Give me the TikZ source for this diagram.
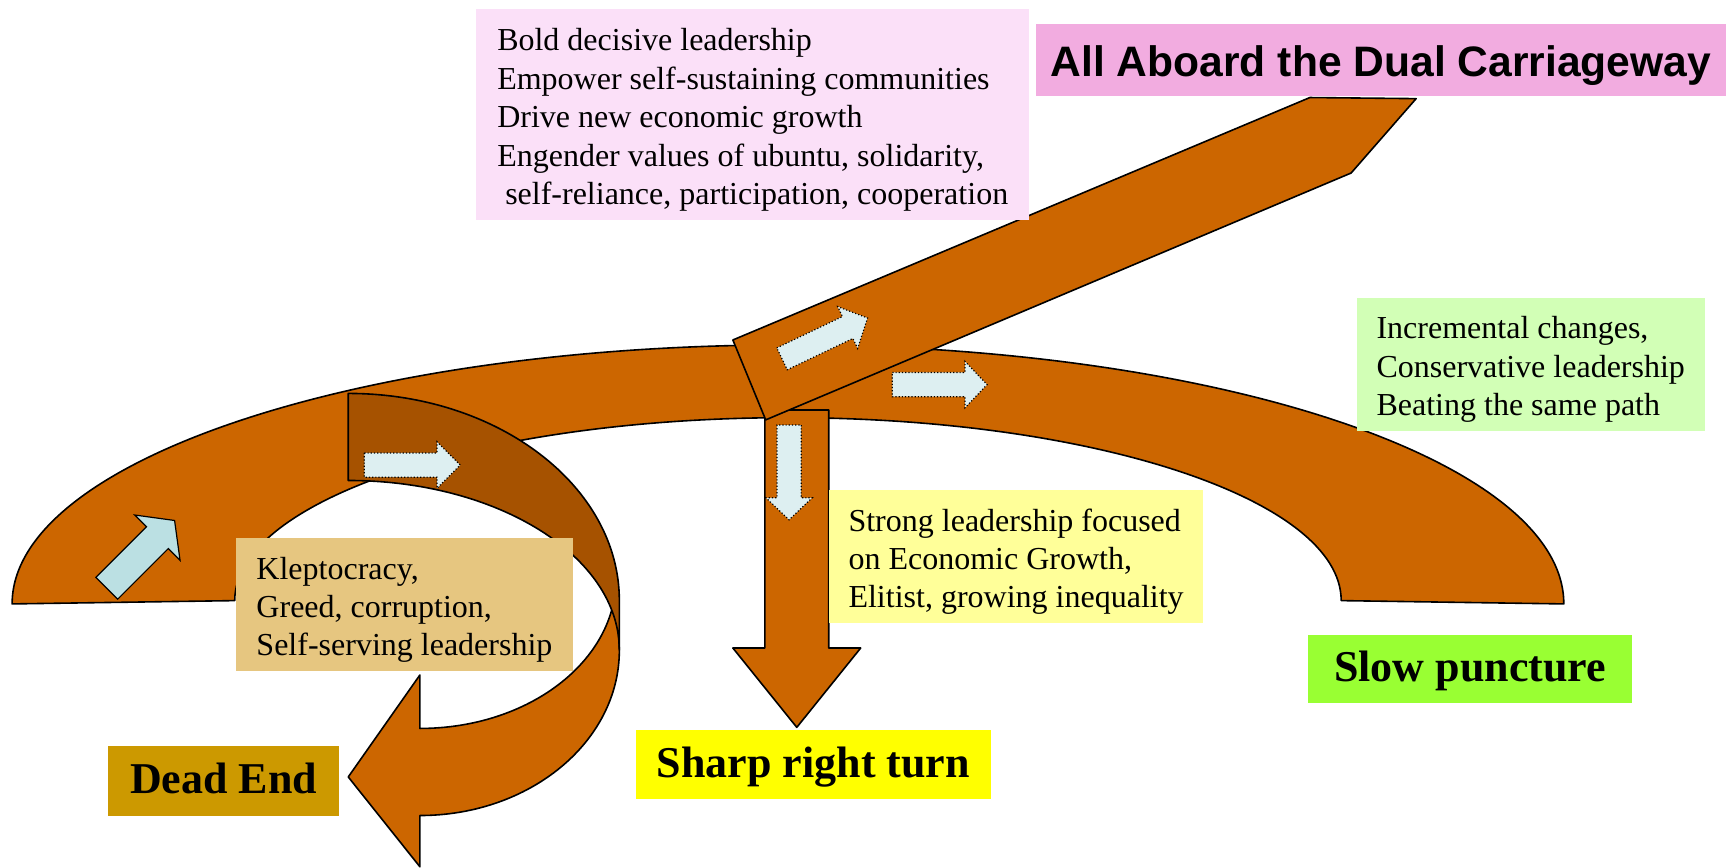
\documentclass[tikz,border=0pt]{standalone}
\usepackage{fontspec}
\setmainfont{Liberation Serif}
\newfontfamily\titlefont{Liberation Sans}
\definecolor{roadorange}{HTML}{CC6600}
\definecolor{roaddark}{HTML}{A65200}
\definecolor{signblue}{HTML}{BBE0E3}
\definecolor{dotblue}{HTML}{DDEFF1}
\definecolor{boldpink}{HTML}{FBE0F8}
\definecolor{titlepink}{HTML}{F2ACE0}
\definecolor{pathgreen}{HTML}{D2FFB6}
\definecolor{paleyellow}{HTML}{FFFF99}
\definecolor{kleptotan}{HTML}{E6C680}
\definecolor{deadgold}{HTML}{CC9900}
\definecolor{turnyellow}{HTML}{FFFF00}
\definecolor{punctgreen}{HTML}{99FF33}
\newcommand\topline{\rule{0pt}{16.5pt}}
\tikzset{
  road/.style={draw, line width=0.8pt, fill=roadorange, line join=round},
  roadback/.style={road, fill=roaddark},
  sign/.style={draw, line width=0.6pt, fill=signblue},
  dotsign/.style={draw, densely dotted, line width=0.6pt, fill=dotblue},
  notebox/.style={inner sep=0pt, align=left, font=\fontsize{16pt}{19.2pt}\selectfont},
  labelbox/.style={text height=13pt, text depth=0pt, font=\fontsize{22pt}{26pt}\selectfont\bfseries},
}

\begin{document}
\begin{tikzpicture}[x=0.551pt, y=-0.551pt]
\useasboundingbox (0,0) rectangle (1568,787);

\draw[road] (381,661) arc[start angle=90, end angle=0, x radius=178, y radius=136]
  -- (562,590) arc[start angle=0, end angle=90, x radius=181, y radius=150]
  -- (381,786.5) -- (316,705) -- (381,612.5) -- cycle;
\draw[road] (11,548) arc[start angle=180, end angle=360, x radius=704, y radius=235]
  -- (1217,545) arc[start angle=360, end angle=180, x radius=502, y radius=166] -- cycle;
\draw[roadback] (316,357) -- (316,436) arc[start angle=270, end angle=360, x radius=246, y radius=154]
  -- (562,545) arc[start angle=0, end angle=-90, x radius=246, y radius=188] -- cycle;
\draw[road] (694,372) -- (752,372) -- (752,588) -- (781,588) -- (723,660) -- (665,588) -- (694,588) -- cycle;
\draw[road] (665,308.5) -- (1188.6,88.5) -- (1285,89.5) -- (1226,157) -- (694.8,381) -- cycle;

\draw[sign, shift={(96.9,533.8)}, rotate=45] (0,-14) -- (65,-14) -- (65,-29) -- (87,0) -- (65,29) -- (65,14) -- (0,14) -- cycle;
\draw[dotsign, shift={(330.6,422)}] (0,-11) -- (66,-11) -- (66,-21) -- (87,0) -- (66,21) -- (66,11) -- (0,11) -- cycle;
\draw[dotsign, shift={(709.6,325.6)}, rotate=25.5] (0,-11) -- (66,-11) -- (66,-21) -- (86,0) -- (66,21) -- (66,11) -- (0,11) -- cycle;
\draw[dotsign, shift={(809.7,349)}] (0,-11) -- (66,-11) -- (66,-21) -- (86,0) -- (66,21) -- (66,11) -- (0,11) -- cycle;
\draw[dotsign, shift={(716,385.7)}, rotate=-90] (0,-11) -- (66,-11) -- (66,-21) -- (86,0) -- (66,21) -- (66,11) -- (0,11) -- cycle;

\node[notebox, fill=boldpink, minimum width=276.6pt, minimum height=105.8pt] (leadership) at (683,104)
  {\topline Bold decisive leadership\\ Empower self-sustaining communities\\ Drive new economic growth\\
   Engender values of ubuntu, solidarity,\\ \hspace*{0.25em}self-reliance, participation, cooperation};
\node[fill=titlepink, minimum width=344.9pt, minimum height=35.8pt, text height=16.6pt, text depth=0pt,
  font=\titlefont\bfseries\fontsize{21.3pt}{25pt}\selectfont] (dualroad) at (1253,54.5) {All Aboard the Dual Carriageway};
\node[notebox, fill=pathgreen, minimum width=174.1pt, minimum height=66.7pt] (incremental) at (1389,330.5)
  {\topline Incremental changes,\\ Conservative leadership\\ Beating the same path};
\node[notebox, fill=paleyellow, minimum width=187.3pt, minimum height=66.1pt] (elitist) at (922,505)
  {\topline Strong leadership focused\\ on Economic Growth,\\ Elitist, growing inequality};
\node[notebox, fill=kleptotan, minimum width=168.6pt, minimum height=66.7pt] (kleptocracy) at (367,548.5)
  {\topline Kleptocracy,\\ Greed, corruption,\\ Self-serving leadership};

\node[labelbox, fill=deadgold, minimum width=115.7pt, minimum height=34.7pt] (deadend) at (203,708.5) {Dead End};
\node[labelbox, fill=turnyellow, minimum width=177.4pt, minimum height=34.7pt] (sharpturn) at (738,693.5) {Sharp right turn};
\node[labelbox, fill=punctgreen, minimum width=162pt, minimum height=34.2pt] (slowpuncture) at (1334,607) {Slow puncture};
\end{tikzpicture}
\end{document}
